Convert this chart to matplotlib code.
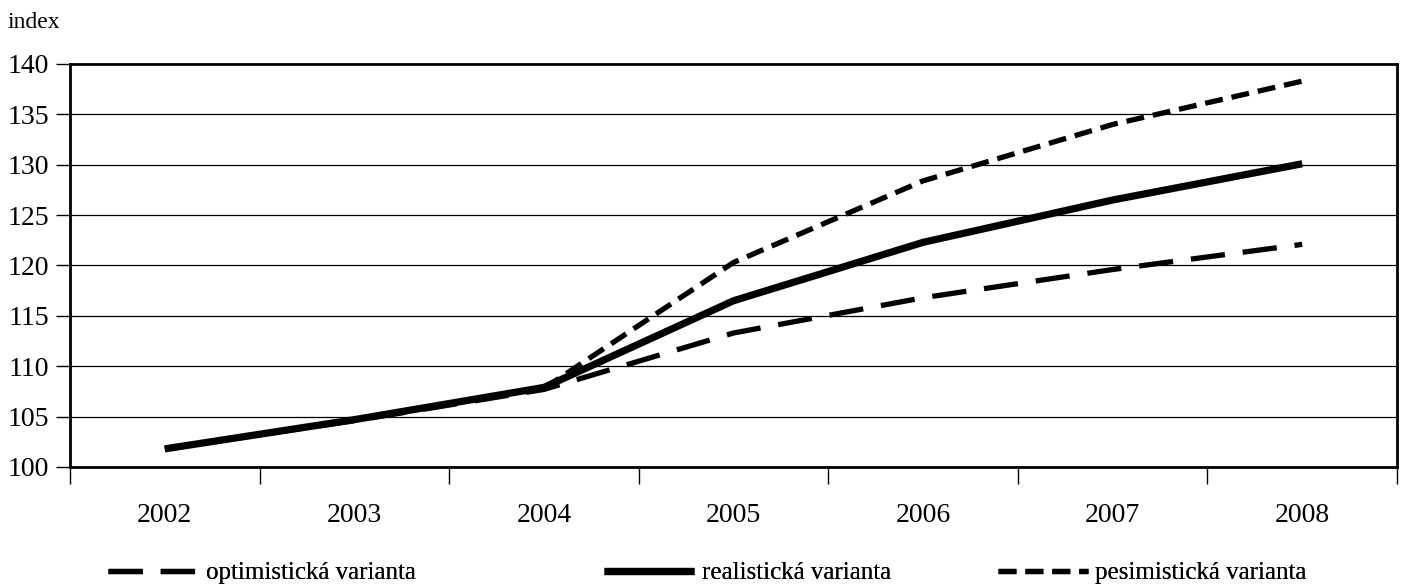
import matplotlib
matplotlib.use("Agg")
import matplotlib.pyplot as plt
import numpy as np

years = ["2002", "2003", "2004", "2005", "2006", "2007", "2008"]
optimistic = [101.8, 104.6, 107.7, 113.3, 116.8, 119.6, 122.1]
realistic = [101.8, 104.7, 107.9, 116.5, 122.3, 126.5, 130.1]
pessimistic = [None, None, 107.8, 120.3, 128.4, 134.0, 138.3]
yticks = [100, 105, 110, 115, 120, 125, 130, 135, 140]
labels = ['optimistická varianta', 'realistická varianta', 'pesimistická varianta']

plt.rcParams['font.family'] = ['Liberation Serif', 'DejaVu Serif']

W, H = 1404, 588
fig = plt.figure(figsize=(W/100, H/100), dpi=100)
ax = fig.add_axes([70/W, 1 - 467/H, (1397-70)/W, (467-64)/H])

x = np.arange(len(years))
l1, = ax.plot(x, optimistic, color='black', lw=3.8, dashes=(6.5, 3.4), dash_capstyle='butt',
              label=labels[0])
l2, = ax.plot(x, realistic, color='black', lw=5.2, solid_capstyle='butt', label=labels[1])
pes = np.array([np.nan if v is None else v for v in pessimistic], dtype=float)
l3, = ax.plot(x, pes, color='black', lw=3.8, dashes=(3.4, 1.7), dash_capstyle='butt',
              label=labels[2])

ax.set_xlim(-0.5, len(years) - 0.5)
ax.set_ylim(100, 140)
ax.set_yticks(yticks)
ax.set_yticklabels([str(v) for v in yticks], fontsize=20)
ax.yaxis.grid(True, color='black', lw=0.9)
ax.set_axisbelow(True)

ax.set_xticks(np.arange(-0.5, len(years) + 0.5, 1))
ax.set_xticklabels([])
ax.set_xticks(x, minor=True)
ax.set_xticklabels(years, minor=True, fontsize=20)
ax.tick_params(axis='x', which='minor', length=0, pad=26)
ax.tick_params(axis='x', which='major', length=12, width=1, direction='out')
ax.tick_params(axis='y', length=10, width=1, direction='out', pad=5)

for s in ax.spines.values():
    s.set_linewidth(2)
    s.set_color('black')

fig.text(7/W, 1 - 23/H, 'index', fontsize=17, va='center', ha='left')

for handle, lab, xs in zip([l1, l2, l3], labels, [108, 604, 998]):
    leg = fig.legend([handle], [lab], loc='center left', bbox_to_anchor=(xs/W, 1 - 573/H),
                     frameon=False, fontsize=18, handlelength=3.6, handletextpad=0.3,
                     borderpad=0, borderaxespad=0)
    fig.add_artist(leg)

fig.savefig('out.png', dpi=100)
